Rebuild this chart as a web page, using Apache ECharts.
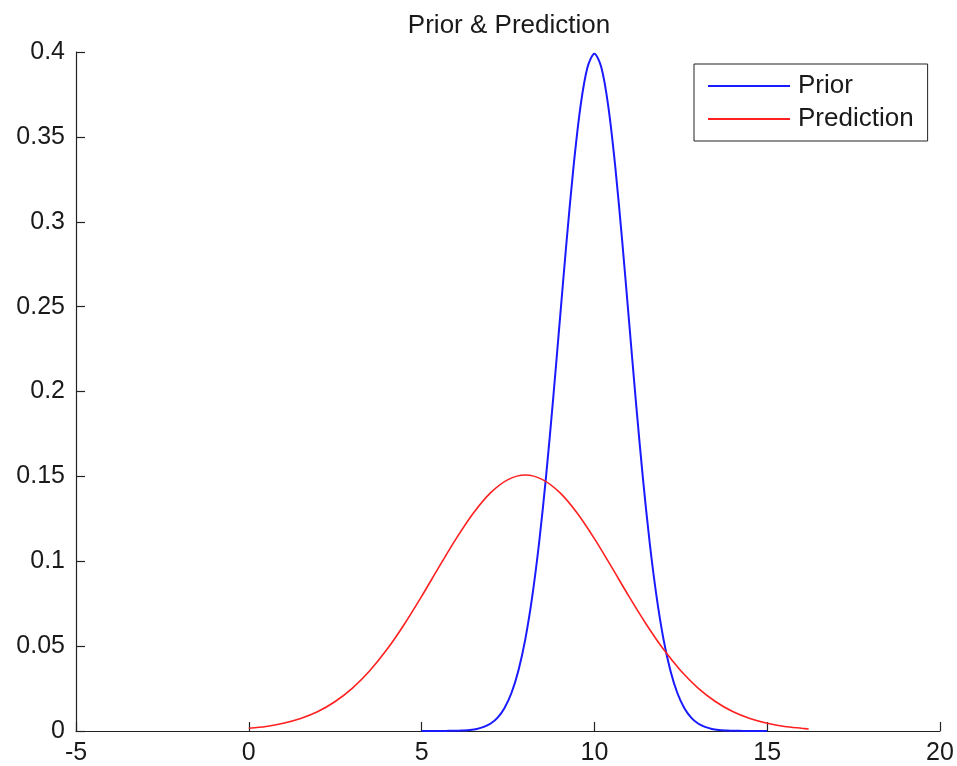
<!DOCTYPE html>
<html>
<head>
<meta charset="utf-8">
<script src="https://cdn.jsdelivr.net/npm/echarts@6/dist/echarts.min.js"></script>
<style>
html,body{margin:0;padding:0;background:#fff;}
#chart{width:957px;height:766px;}
</style>
</head>
<body>
<div id="chart"></div>
<script>
var titleText = 'Prior & Prediction';
var seriesNames = ['Prior', 'Prediction'];
var xTicks = [-5, 0, 5, 10, 15, 20];
var yTicks = [0, 0.05, 0.1, 0.15, 0.2, 0.25, 0.3, 0.35, 0.4];

var priorX = [5, 5.2, 5.4, 5.6, 5.8, 6, 6.2, 6.4, 6.6, 6.8, 7, 7.2, 7.4, 7.6, 7.8, 8, 8.2, 8.4, 8.6, 8.8, 9, 9.2, 9.4, 9.6, 9.8, 10,
  10.2, 10.4, 10.6, 10.8, 11, 11.2, 11.4, 11.6, 11.8, 12, 12.2, 12.4, 12.6, 12.8, 13, 13.2, 13.4, 13.6, 13.8, 14, 14.2, 14.4, 14.6, 14.8, 15];
var priorY = [0.0000, 0.0000, 0.0000, 0.0000, 0.0001, 0.0001, 0.0003, 0.0006, 0.0012, 0.0024, 0.0044, 0.0079, 0.0136, 0.0224, 0.0355, 0.0540, 0.0790, 0.1109, 0.1497, 0.1942, 0.2420, 0.2897, 0.3332, 0.3683, 0.3910, 0.3989,
  0.3910, 0.3683, 0.3332, 0.2897, 0.2420, 0.1942, 0.1497, 0.1109, 0.0790, 0.0540, 0.0355, 0.0224, 0.0136, 0.0079, 0.0044, 0.0024, 0.0012, 0.0006, 0.0003, 0.0001, 0.0001, 0.0000, 0.0000, 0.0000, 0.0000];

var predX = [0, 0.5, 1, 1.5, 2, 2.5, 3, 3.5, 4, 4.5, 5, 5.5, 6, 6.5, 7, 7.5, 8,
  8.5, 9, 9.5, 10, 10.5, 11, 11.5, 12, 12.5, 13, 13.5, 14, 14.5, 15, 15.5, 16, 16.2];
var predY = [0.0016, 0.0027, 0.0046, 0.0074, 0.0115, 0.0174, 0.0253, 0.0355, 0.0481, 0.0629, 0.0793, 0.0965, 0.1133, 0.1284, 0.1404, 0.1481, 0.1508,
  0.1481, 0.1404, 0.1284, 0.1133, 0.0965, 0.0793, 0.0629, 0.0481, 0.0355, 0.0253, 0.0174, 0.0115, 0.0074, 0.0046, 0.0027, 0.0016, 0.0012];

function zip(xs, ys) { return xs.map(function (x, i) { return [x, ys[i]]; }); }

var FONT = '"Liberation Sans", Arial, sans-serif';
var TXT = '#1a1a1a';
var chart = echarts.init(document.getElementById('chart'), null, { renderer: 'canvas' });
chart.setOption({
  animation: false,
  backgroundColor: '#fff',
  title: {
    text: titleText, left: 504, textAlign: 'center', top: 8,
    textStyle: { fontFamily: FONT, fontSize: 26, fontWeight: 'normal', color: TXT }
  },
  legend: {
    data: seriesNames, orient: 'vertical', left: 694, top: 64,
    padding: [8, 14, 8, 14], itemGap: 5, itemWidth: 82, itemHeight: 1.8, icon: 'rect',
    borderColor: '#222', borderWidth: 1, borderRadius: 0, backgroundColor: '#fff',
    textStyle: { fontFamily: FONT, fontSize: 26, color: TXT, lineHeight: 28, padding: [0, 0, 0, 3] }
  },
  grid: { left: 76, right: 17, top: 52, bottom: 34, containLabel: false },
  xAxis: {
    type: 'value', min: xTicks[0], max: xTicks[xTicks.length - 1], interval: 5,
    axisLine: { show: true, onZero: false, lineStyle: { color: '#222', width: 1.2 } },
    axisTick: { show: true, inside: true, length: 9, lineStyle: { color: '#222', width: 1.2 } },
    axisLabel: { fontFamily: FONT, fontSize: 25, color: TXT, margin: 10 },
    splitLine: { show: false }
  },
  yAxis: {
    type: 'value', min: yTicks[0], max: yTicks[yTicks.length - 1], interval: 0.05,
    axisLine: { show: true, onZero: false, lineStyle: { color: '#222', width: 1.2 } },
    axisTick: { show: true, inside: true, length: 9, lineStyle: { color: '#222', width: 1.2 } },
    axisLabel: { fontFamily: FONT, fontSize: 25, color: TXT, margin: 11 },
    splitLine: { show: false }
  },
  series: [
    { name: seriesNames[0], type: 'line', data: zip(priorX, priorY), symbol: 'none', smooth: 0.3,
      lineStyle: { color: '#1a1aff', width: 2 }, itemStyle: { color: '#1a1aff' } },
    { name: seriesNames[1], type: 'line', data: zip(predX, predY), symbol: 'none', smooth: 0.3,
      lineStyle: { color: '#ff2020', width: 1.6 }, itemStyle: { color: '#ff2020' } }
  ]
});
</script>
</body>
</html>
